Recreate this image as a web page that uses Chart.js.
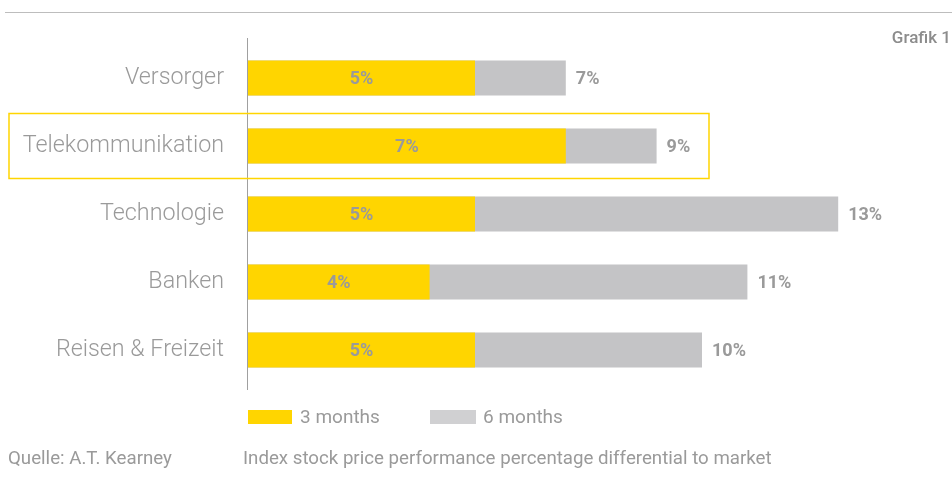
<!DOCTYPE html>
<html>
<head>
<meta charset="utf-8">
<script src="https://cdn.jsdelivr.net/npm/chart.js@4"></script>
<style>
  html, body { margin: 0; padding: 0; background: #fff; }
  #wrap { position: relative; width: 952px; height: 480px; font-family: Roboto, "Liberation Sans", sans-serif; color: #9a9a9a; }
  #topline { position: absolute; left: 5px; right: 0; top: 12px; height: 0; border-top: 1.5px solid #bdbdbd; }
  #grafik { position: absolute; right: 1px; top: 27px; font-size: 17px; font-weight: 500; color: #8c8c8c; }
  .legend { position: absolute; top: 406px; font-size: 19px; line-height: 22px; }
  .legend span.box { position: absolute; left: 0; top: 4px; height: 14px; }
  .foot { position: absolute; top: 447px; font-size: 18.7px; line-height: 22px; }
</style>
</head>
<body>
<div id="wrap">
  <canvas id="grafik1" width="952" height="480"></canvas>
  <div id="topline"></div>
  <div id="grafik">Grafik 1</div>
  <div class="legend" style="left:248px"><span class="box" style="width:44px;background:#ffd500"></span><span style="margin-left:52px" id="leg0t"></span></div>
  <div class="legend" style="left:430px"><span class="box" style="width:46px;background:#d0d0d2"></span><span style="margin-left:53px" id="leg1t"></span></div>
  <div class="foot" style="left:8px">Quelle: A.T. Kearney</div>
  <div class="foot" style="left:243px">Index stock price performance percentage differential to market</div>
</div>
<script>
const sektoren = ['Versorger', 'Telekommunikation', 'Technologie', 'Banken', 'Reisen & Freizeit'];
const dreiMonate = [5, 7, 5, 4, 5];
const sechsMonate = [7, 9, 13, 11, 10];
const serien = ['3 months', '6 months'];

document.getElementById('leg0t').textContent = serien[0];
document.getElementById('leg1t').textContent = serien[1];

const gelb = '#ffd500';
const grau = '#c4c4c6';

// Werte an die Balken schreiben: 3 Monate mittig, 6 Monate rechts daneben
const wertLabels = {
  id: 'wertLabels',
  afterDatasetsDraw(chart) {
    const ctx = chart.ctx;
    ctx.save();
    ctx.font = 'bold 18px Roboto, "Liberation Sans", sans-serif';
    ctx.fillStyle = '#9a9a9a';
    ctx.textBaseline = 'middle';
    chart.getDatasetMeta(0).data.forEach((bar, i) => {
      ctx.textAlign = 'center';
      ctx.fillText(dreiMonate[i] + '%', (bar.base + bar.x) / 2, bar.y + 1);
    });
    chart.getDatasetMeta(1).data.forEach((bar, i) => {
      ctx.textAlign = 'left';
      ctx.fillText(sechsMonate[i] + '%', bar.x + 10, bar.y + 1);
    });
    ctx.restore();
  }
};

// Achsenlinie und Rahmen um Telekommunikation
const deko = {
  id: 'deko',
  afterDraw(chart) {
    const ctx = chart.ctx;
    const a = chart.chartArea;
    const y = chart.scales.y;
    ctx.save();
    ctx.strokeStyle = '#a0a0a0';
    ctx.lineWidth = 1;
    ctx.beginPath();
    ctx.moveTo(a.left - 0.5, a.top - 6);
    ctx.lineTo(a.left - 0.5, a.bottom + 6);
    ctx.stroke();
    const yc = y.getPixelForValue(1);
    ctx.strokeStyle = gelb;
    ctx.lineWidth = 1.5;
    ctx.strokeRect(9, yc - 32.5, 700, 65);
    ctx.restore();
  }
};

const ctx = document.getElementById('grafik1').getContext('2d');
new Chart(ctx, {
  type: 'bar',
  data: {
    labels: sektoren,
    datasets: [
      { label: serien[0], data: dreiMonate, backgroundColor: gelb },
      { label: serien[1], data: sechsMonate, backgroundColor: grau }
    ]
  },
  options: {
    indexAxis: 'y',
    responsive: false,
    animation: false,
    grouped: false,
    categoryPercentage: 1,
    barPercentage: 0.515,
    layout: { padding: { left: 0, right: 68.4, top: 44, bottom: 96 } },
    plugins: { legend: { display: false }, tooltip: { enabled: false } },
    scales: {
      x: { display: false, min: 0, max: 14 },
      y: {
        afterFit(scale) { scale.width = 248; },
        grid: { display: false, drawTicks: false },
        border: { display: false },
        ticks: {
          padding: 24,
          color: '#9a9a9a',
          font: { family: 'Roboto, "Liberation Sans", sans-serif', size: 23.3, weight: 300 }
        }
      }
    }
  },
  plugins: [wertLabels, deko]
});
</script>
</body>
</html>
